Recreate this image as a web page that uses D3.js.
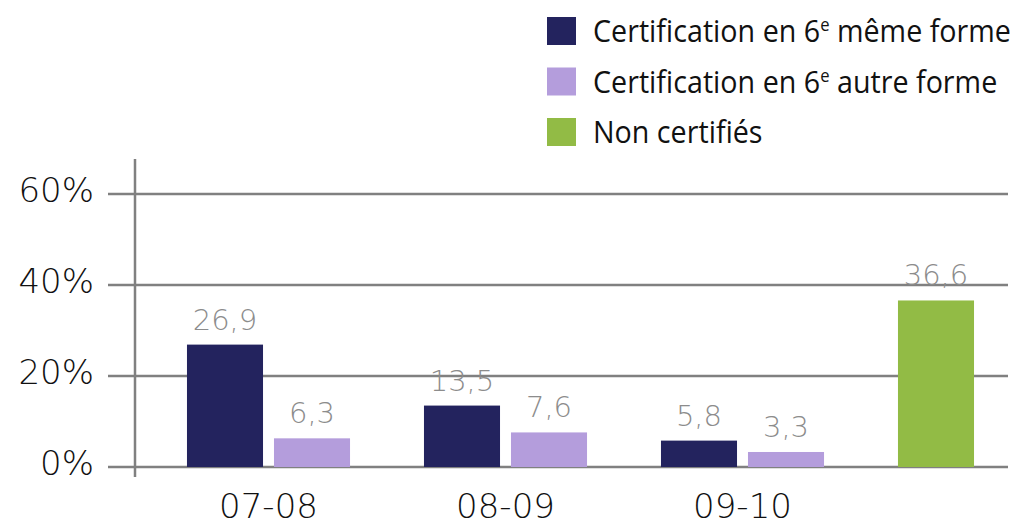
<!DOCTYPE html>
<html>
<head>
<meta charset="utf-8">
<script src="https://cdn.jsdelivr.net/npm/d3@7"></script>
<style>
  body { margin: 0; background: #fff; }
</style>
</head>
<body>
<div id="chart"></div>
<script>
// données
var categories = ["07-08", "08-09", "09-10", ""];
var seriesNames = ["Certification en 6e même forme", "Certification en 6e autre forme", "Non certifiés"];
var memeForme = [26.9, 13.5, 5.8, null];
var autreForme = [6.3, 7.6, 3.3, null];
var nonCertifies = [null, null, null, 36.6];
var yTicks = [0, 20, 40, 60];
var colors = ["#23235e", "#b49ddc", "#92bb45"];

var width = 1017, height = 525;

var svg = d3.select("#chart").append("svg")
  .attr("width", width)
  .attr("height", height);

// échelles
var y = d3.scaleLinear().domain([0, 60]).range([467, 194]);

var x0 = d3.scaleBand()
  .domain(categories)
  .range([150, 1098])
  .paddingInner(0.312)
  .paddingOuter(0.156);

var x1 = d3.scaleBand()
  .domain([0, 1])
  .range([0, x0.bandwidth()])
  .paddingInner(0.126);

// grille + graduations
svg.append("g").selectAll("line").data(yTicks).enter()
  .append("line")
  .attr("x1", 108).attr("x2", 1008)
  .attr("y1", function(d) { return y(d); })
  .attr("y2", function(d) { return y(d); })
  .attr("stroke", "#808080")
  .attr("stroke-width", 2.5);

svg.append("g").selectAll("text").data(yTicks).enter()
  .append("text")
  .attr("x", 94)
  .attr("y", function(d) { return y(d) + 8; })
  .attr("text-anchor", "end")
  .attr("font-family", "DejaVu Sans")
  .attr("font-weight", 200)
  .attr("font-size", "34px")
  .attr("fill", "#111")
  .text(function(d) { return d + "%"; });

// axe vertical
svg.append("line")
  .attr("x1", 135).attr("x2", 135)
  .attr("y1", 159).attr("y2", 477)
  .attr("stroke", "#808080")
  .attr("stroke-width", 2.5);

// barres : une ligne par catégorie, une case par série
var rows = categories.map(function(c, i) {
  return [
    { cat: c, slot: 0, value: memeForme[i], color: colors[0] },
    { cat: c, slot: 1, value: autreForme[i], color: colors[1] },
    { cat: c, slot: 0, value: nonCertifies[i], color: colors[2] }
  ].filter(function(d) { return d.value != null; });
});
var bars = [].concat.apply([], rows);

svg.append("g").selectAll("rect").data(bars).enter()
  .append("rect")
  .attr("x", function(d) { return x0(d.cat) + x1(d.slot); })
  .attr("y", function(d) { return y(d.value); })
  .attr("width", x1.bandwidth())
  .attr("height", function(d) { return y(0) - y(d.value); })
  .attr("fill", function(d) { return d.color; });

// étiquettes de valeur
svg.append("g").selectAll("text").data(bars).enter()
  .append("text")
  .attr("x", function(d) { return x0(d.cat) + x1(d.slot) + x1.bandwidth() / 2; })
  .attr("y", function(d) { return y(d.value) - 15; })
  .attr("text-anchor", "middle")
  .attr("font-family", "DejaVu Sans")
  .attr("font-weight", 200)
  .attr("font-size", "29px")
  .attr("fill", "#8c8c8c")
  .text(function(d) { return String(d.value).replace(".", ","); });

// libellés des catégories
svg.append("g").selectAll("text").data(categories).enter()
  .append("text")
  .attr("x", function(d) { return x0(d) + x0.bandwidth() / 2; })
  .attr("y", 518)
  .attr("text-anchor", "middle")
  .attr("font-family", "DejaVu Sans")
  .attr("font-weight", 200)
  .attr("font-size", "34px")
  .attr("fill", "#111")
  .text(function(d) { return d; });

// légende
var legend = svg.append("g").selectAll("g").data(seriesNames).enter()
  .append("g")
  .attr("transform", function(d, i) { return "translate(547," + (17 + i * 50.5) + ")"; });

legend.append("rect")
  .attr("width", 29).attr("height", 28)
  .attr("fill", function(d, i) { return colors[i]; });

var lt = legend.append("text")
  .attr("transform", "translate(46,25) scale(0.925,1)")
  .attr("font-family", "Open Sans, sans-serif")
  .attr("font-size", "31px")
  .attr("fill", "#111");

lt.each(function(d) {
  var t = d3.select(this);
  var m = d.match(/^(.* 6)e( .*)$/);
  if (m) {
    t.append("tspan").text(m[1]);
    t.append("tspan").attr("dy", -11).attr("font-size", "18px").text("e");
    t.append("tspan").attr("dy", 11).text(m[2]);
  } else {
    t.text(d);
  }
});
</script>
</body>
</html>
